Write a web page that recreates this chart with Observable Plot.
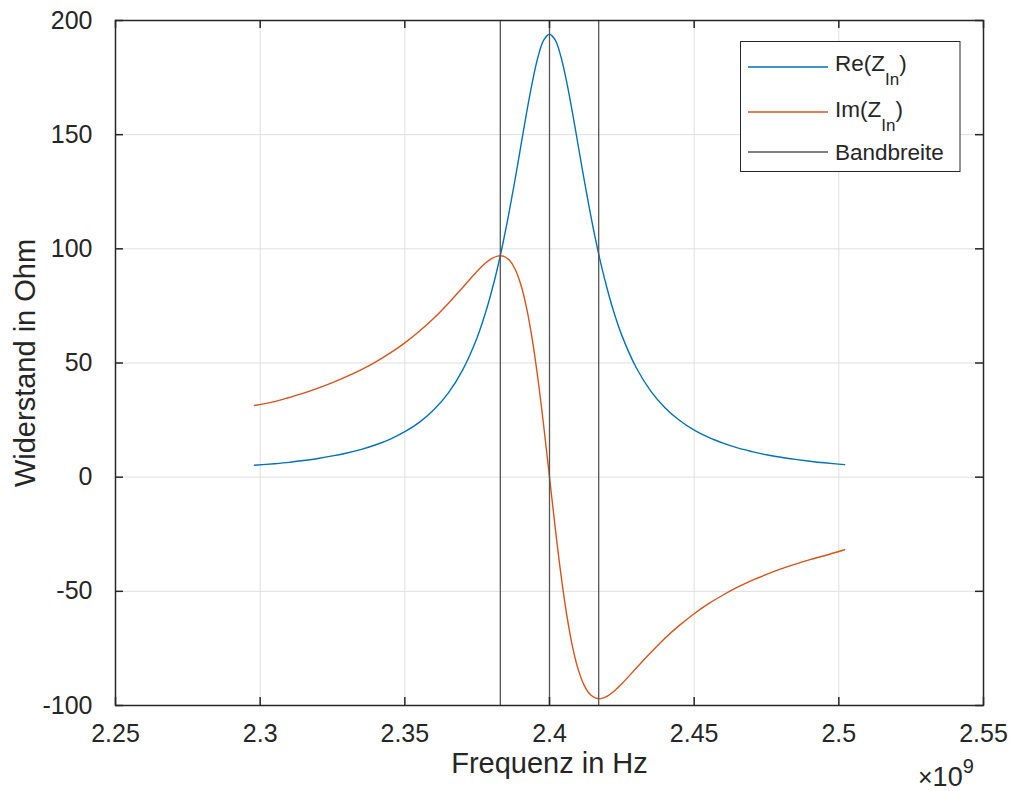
<!DOCTYPE html>
<html>
<head>
<meta charset="utf-8">
<script src="https://cdn.jsdelivr.net/npm/d3@7"></script>
<script src="https://cdn.jsdelivr.net/npm/@observablehq/plot@0.6"></script>
<style>
  html, body { margin: 0; padding: 0; background: #fff; }
  #chart { width: 1012px; height: 791px; }
</style>
</head>
<body>
<div id="chart"></div>
<script>
// Frequencies in GHz (axis shown with ×10^9 multiplier)
const freqGHz = [2.298, 2.305, 2.31, 2.315, 2.32, 2.325, 2.33, 2.335, 2.34, 2.345, 2.35, 2.355, 2.36, 2.365, 2.37, 2.375, 2.378, 2.38, 2.382, 2.384, 2.386, 2.388, 2.39, 2.392, 2.394, 2.396, 2.398, 2.4, 2.402, 2.404, 2.406, 2.408, 2.41, 2.412, 2.414, 2.416, 2.418, 2.42, 2.422, 2.425, 2.43, 2.435, 2.44, 2.445, 2.45, 2.455, 2.46, 2.465, 2.47, 2.475, 2.48, 2.485, 2.49, 2.495, 2.502];
const reZ = [5.2, 5.9, 6.5, 7.3, 8.2, 9.3, 10.6, 12.2, 14.2, 16.7, 19.9, 24.0, 29.5, 36.8, 47.0, 61.2, 72.5, 81.4, 91.5, 103.0, 115.7, 129.6, 144.3, 159.0, 172.6, 183.9, 191.4, 194, 191.4, 183.9, 172.7, 159.2, 144.6, 130.1, 116.3, 103.6, 92.2, 82.2, 73.3, 62.1, 47.9, 37.7, 30.3, 24.8, 20.6, 17.4, 14.9, 12.8, 11.2, 9.8, 8.7, 7.8, 7.0, 6.3, 5.5];
const imZ = [31.4, 33.1, 34.9, 36.8, 39.0, 41.4, 44.1, 47.1, 50.5, 54.4, 58.8, 63.9, 69.6, 76.1, 83.1, 90.2, 93.9, 95.7, 96.8, 96.8, 95.2, 91.4, 84.7, 74.6, 60.7, 43.1, 22.4, 0, -22.4, -43.1, -60.6, -74.5, -84.5, -91.2, -95.1, -96.8, -96.9, -95.9, -94.1, -90.5, -83.6, -76.8, -70.4, -64.8, -59.8, -55.4, -51.6, -48.2, -45.2, -42.6, -40.2, -38.1, -36.1, -34.4, -31.8];
const bandGHz = [2.383, 2.4, 2.417];
const xTicksGHz = [2.25, 2.3, 2.35, 2.4, 2.45, 2.5, 2.55];
const yTicks = [-100, -50, 0, 50, 100, 150, 200];
const xDomainGHz = [2.25, 2.55];
const yDomain = [-100, 200];

const colors = ["#0072BD", "#D95319", "#555555"];

const toHz = g => g * 1e9;
const reData = freqGHz.map((f, i) => ({f: toHz(f), v: reZ[i]}));
const imData = freqGHz.map((f, i) => ({f: toHz(f), v: imZ[i]}));
const xTicks = xTicksGHz.map(toHz);
const bands = bandGHz.map(toHz);

const W = 1012, H = 791;
const mL = 115, mR = 29, mT = 20, mB = 86;
const frameW = W - mL - mR, frameH = H - mT - mB;
const tickLen = 8;
const ink = "#262626";
const gridColor = "#dfdfdf";
const fontFam = "'Liberation Sans', Arial, Helvetica, sans-serif";

const plot = Plot.plot({
  width: W,
  height: H,
  marginLeft: mL,
  marginRight: mR,
  marginTop: mT,
  marginBottom: mB,
  style: {fontFamily: fontFam, fontSize: "25px", color: ink, background: "#fff"},
  x: {type: "linear", domain: xDomainGHz.map(toHz)},
  y: {type: "linear", domain: yDomain},
  marks: [
    Plot.ruleX(xTicks, {stroke: gridColor, strokeWidth: 1}),
    Plot.ruleY(yTicks, {stroke: gridColor, strokeWidth: 1}),
    Plot.line(reData, {x: "f", y: "v", stroke: colors[0], strokeWidth: 1.4, curve: "catmull-rom"}),
    Plot.line(imData, {x: "f", y: "v", stroke: colors[1], strokeWidth: 1.4, curve: "catmull-rom"}),
    Plot.ruleX(bands, {stroke: colors[2], strokeWidth: 1.3}),
    Plot.frame({stroke: ink, strokeWidth: 1.5}),
    // inward ticks on all four sides
    Plot.ruleX(xTicks, {stroke: ink, strokeWidth: 1.5, insetTop: frameH - tickLen}),
    Plot.ruleX(xTicks, {stroke: ink, strokeWidth: 1.5, insetBottom: frameH - tickLen}),
    Plot.ruleY(yTicks, {stroke: ink, strokeWidth: 1.5, insetRight: frameW - tickLen}),
    Plot.ruleY(yTicks, {stroke: ink, strokeWidth: 1.5, insetLeft: frameW - tickLen}),
    Plot.axisX({ticks: xTicks, tickSize: 0, tickPadding: 19, label: null, tickFormat: d => String(+(d / 1e9).toFixed(2)), fill: ink}),
    Plot.axisY({ticks: yTicks, tickSize: 0, tickPadding: 23, label: null, tickFormat: d => String(d), fill: ink}),
    Plot.text(["Frequenz in Hz"], {frameAnchor: "bottom", text: d => d, dy: 67, fontSize: 29, fill: ink, textAnchor: "middle"}),
    Plot.text(["Widerstand in Ohm"], {frameAnchor: "left", text: d => d, rotate: -90, dx: -90, fontSize: 29, fill: ink, textAnchor: "middle"})
  ]
});

document.getElementById("chart").appendChild(plot);

// Legend and exponent label, added to the same SVG
const svg = d3.select(plot);
const lg = svg.append("g").attr("font-family", fontFam).attr("fill", ink).attr("text-anchor", "start");
lg.append("rect").attr("x", 740.5).attr("y", 41.5).attr("width", 219.5).attr("height", 130)
  .attr("fill", "#fff").attr("stroke", ink).attr("stroke-width", 1);
const rows = [
  {y: 67, base: 70.5, main: "Re(Z", sub: "In", tail: ")"},
  {y: 112, base: 116.5, main: "Im(Z", sub: "In", tail: ")"},
  {y: 152, base: 159.5, main: "Bandbreite", sub: null, tail: null}
];
rows.forEach((r, i) => {
  lg.append("line").attr("x1", 748).attr("x2", 828).attr("y1", r.y).attr("y2", r.y)
    .attr("stroke", colors[i]).attr("stroke-width", 1.4);
  const t = lg.append("text").attr("x", 835).attr("y", r.base).attr("font-size", 22.5)
    .attr("fill", ink).attr("text-anchor", "start");
  t.append("tspan").text(r.main);
  if (r.sub) {
    t.append("tspan").attr("font-size", 17).attr("dy", 14).text(r.sub);
    t.append("tspan").attr("dy", -14).text(r.tail);
  }
});

const ex = svg.append("text").attr("x", 918).attr("y", 786).attr("text-anchor", "start")
  .attr("font-family", fontFam).attr("font-size", 27).attr("fill", ink);
ex.append("tspan").attr("font-size", 25).text("×");
ex.append("tspan").text("10");
ex.append("tspan").attr("font-size", 20).attr("dy", -13).text("9");
</script>
</body>
</html>
